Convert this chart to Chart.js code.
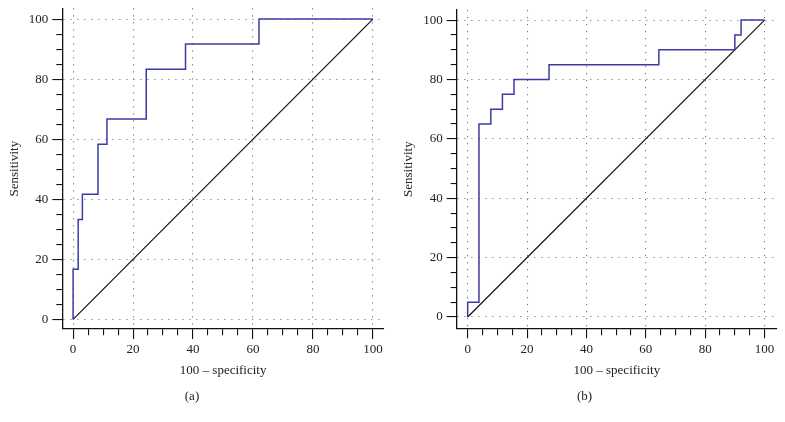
<!DOCTYPE html>
<html>
<head>
<meta charset="utf-8">
<script src="https://cdn.jsdelivr.net/npm/chart.js@4"></script>
<style>
  body { margin: 0; background: #fff; }
  #rocA { position: absolute; left: 0; top: 0; }
  #rocB { position: absolute; left: 392px; top: 0; }
</style>
</head>
<body>
<canvas id="rocA" width="392" height="422"></canvas>
<canvas id="rocB" width="393" height="422"></canvas>
<script>
// ROC curve corners (100 - specificity, sensitivity)
const fprA = [0, 0, 1.7, 3.1, 8.3, 11.3, 24.4, 37.5, 62, 100];
const tprA = [0, 16.7, 33.3, 41.7, 58.3, 66.7, 83.3, 91.7, 100, 100];
const fprB = [0, 0, 3.8, 7.8, 11.7, 15.6, 27.4, 64.4, 90, 92.1, 100];
const tprB = [0, 5, 65, 70, 75, 80, 85, 90, 95, 100, 100];
// reference diagonal
const refX = [0, 100];
const refY = [0, 100];
// labelled ticks (minor ticks every 5)
const majorTicks = [0, 20, 40, 60, 80, 100];

const serif = "'Liberation Serif', 'DejaVu Serif', serif";
const textColor = '#222';

function toPoints(xs, ys) {
  return xs.map((x, i) => ({ x: x, y: ys[i] }));
}

function isMajor(c) {
  return c.tick && majorTicks.includes(c.tick.value);
}

function axis(pos, min, max, size, titleText, titlePad) {
  const left = pos === 'left';
  return {
    type: 'linear',
    position: pos,
    min: min,
    max: max,
    afterFit: s => {
      if (left) s.width = size; else s.height = size;
      // keep the plot box where the layout padding puts it
      s.paddingTop = 0; s.paddingBottom = 0;
      s.paddingLeft = 0; s.paddingRight = 0;
    },
    ticks: {
      stepSize: 5,
      autoSkip: false,
      includeBounds: false,
      maxRotation: 0,
      padding: left ? 4 : 3,
      color: textColor,
      font: { family: serif, size: 13 },
      callback: v => majorTicks.includes(v) ? String(v) : ''
    },
    grid: {
      tickLength: 10,
      lineWidth: 1.1,
      color: c => isMajor(c) ? '#7a7a7a' : 'rgba(0,0,0,0)',
      tickColor: '#111',
      tickWidth: 1.1,
      // minor ticks are shorter: dash away the outer part
      tickBorderDash: c => isMajor(c) ? [] : (left ? [6, 4] : [6, 10]),
      tickBorderDashOffset: left ? 6 : 0
    },
    border: { color: '#111', width: 1.3, dash: [1.2, 5.8] },
    title: {
      display: true,
      text: titleText,
      color: textColor,
      font: { family: serif, size: 13 },
      padding: titlePad
    }
  };
}

function makeRoc(id, fpr, tpr, panel, o) {
  new Chart(document.getElementById(id), {
    type: 'scatter',
    data: {
      datasets: [
        {
          data: toPoints(fpr, tpr),
          showLine: true,
          stepped: 'before',
          borderColor: '#3b3ba3',
          borderWidth: 1.5,
          pointRadius: 0
        },
        {
          data: toPoints(refX, refY),
          showLine: true,
          borderColor: '#111',
          borderWidth: 1.2,
          pointRadius: 0
        }
      ]
    },
    options: {
      responsive: false,
      animation: false,
      layout: { padding: { left: 0, right: o.padRight, top: o.padTop, bottom: 13.4 } },
      scales: {
        x: axis('bottom', o.xMin, o.xMax, o.xSize, '100 – specificity', { top: 0, bottom: 5 }),
        y: axis('left', o.yMin, o.yMax, o.ySize, 'Sensitivity', { top: o.yTitlePad, bottom: 0 })
      },
      plugins: {
        legend: { display: false },
        tooltip: { enabled: false },
        title: {
          display: true,
          position: 'bottom',
          text: panel,
          color: textColor,
          font: { family: serif, size: 13, weight: 'normal' },
          padding: { top: 6, bottom: 4 }
        }
      }
    }
  });
}

makeRoc('rocA', fprA, tprA, '(a)', {
  xMin: -3.6, xMax: 103.7, yMin: -3.2, yMax: 103.6,
  xSize: 54, ySize: 62.3, padRight: 8, padTop: 8.3, yTitlePad: 7
});
makeRoc('rocB', fprB, tprB, '(b)', {
  xMin: -3.7, xMax: 104.2, yMin: -3.8, yMax: 103.4,
  xSize: 54.7, ySize: 64.7, padRight: 8, padTop: 10, yTitlePad: 8.5
});
</script>
</body>
</html>
